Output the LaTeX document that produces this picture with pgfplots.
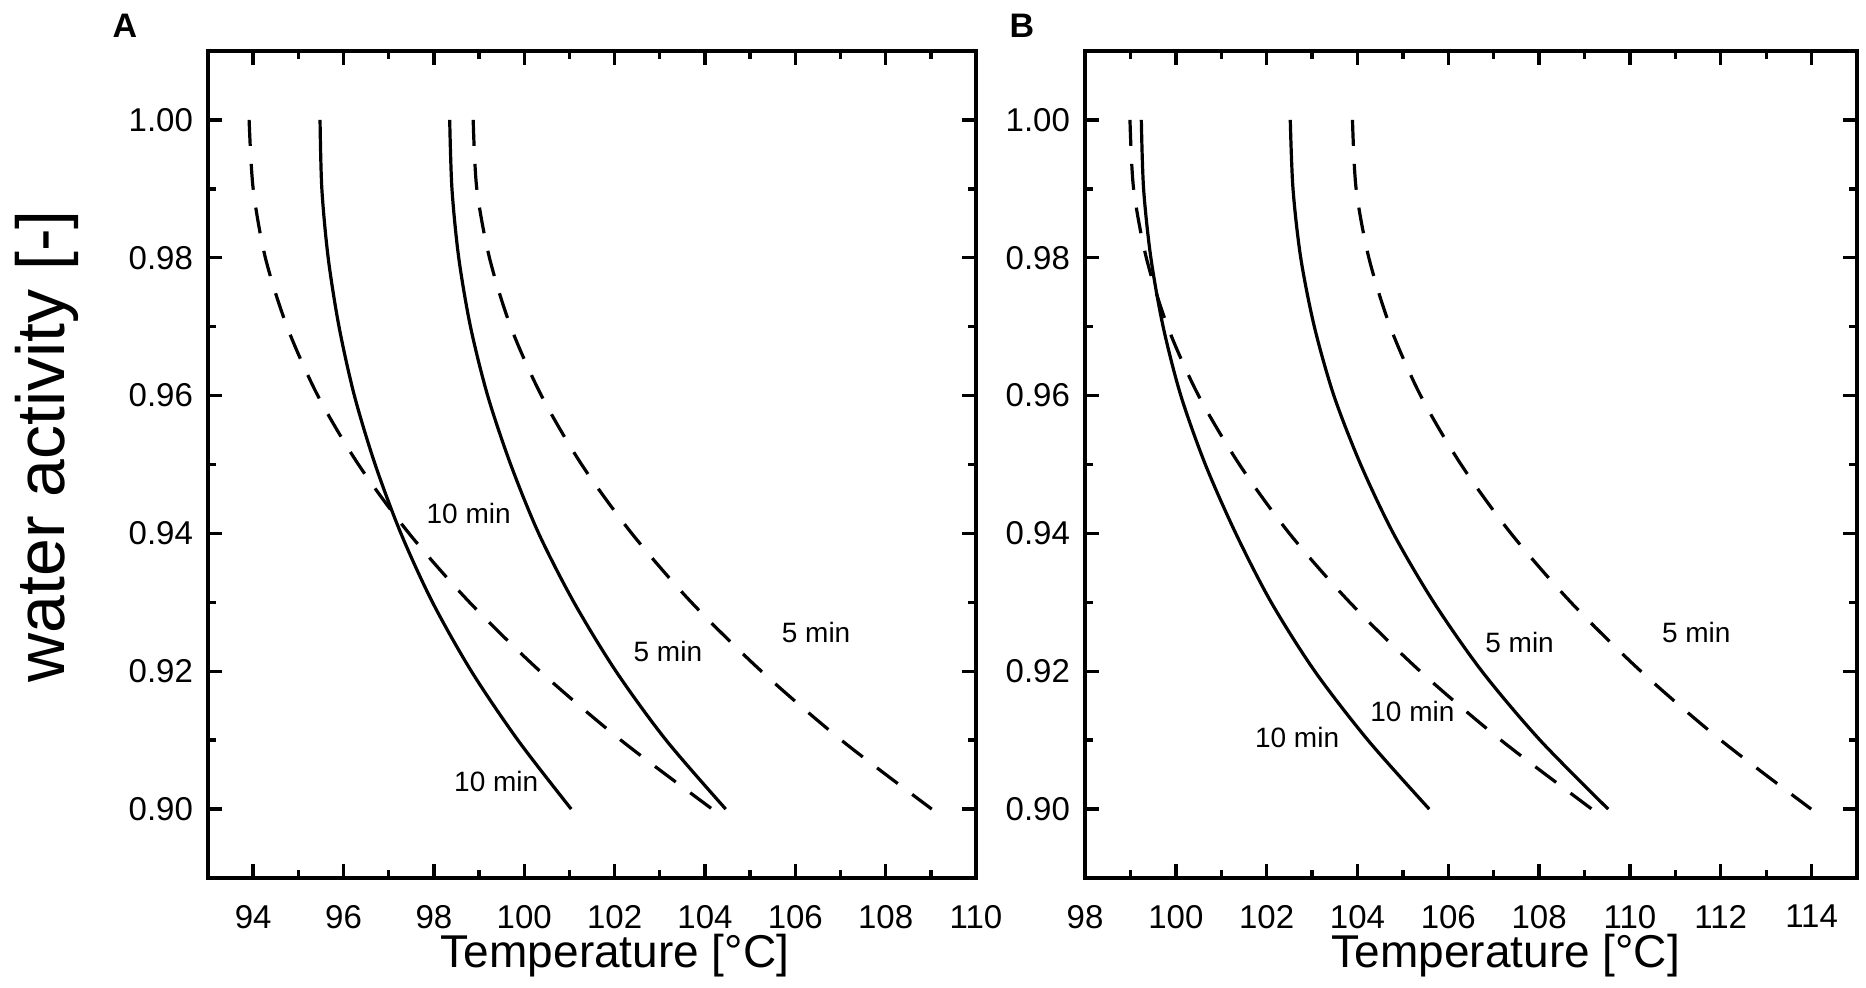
\documentclass[border=0pt]{standalone}
\usepackage{fontspec}
\setmainfont{Liberation Sans}
\usepackage{pgfplots}
\pgfplotsset{compat=1.18}
\begin{document}
\begin{tikzpicture}
\path[use as bounding box] (0,0) rectangle (933pt,493.5pt);
\pgfplotsset{
  panel/.style={
    scale only axis, height=413.5pt,
    ymin=0.89, ymax=1.01,
    ytick={0.90,0.92,0.94,0.96,0.98,1.00},
    minor x tick num=1, minor y tick num=1,
    tick align=inside, tick pos=both, ticklabel pos=left,
    major tick length=7pt, minor tick length=4pt,
    every tick/.style={black, line width=1.7pt},
    axis line style={line width=1.9pt},
    /pgf/number format/assume math mode=true,
    yticklabel style={/pgf/number format/fixed, /pgf/number format/fixed zerofill, /pgf/number format/precision=2, xshift=-4pt},
    tick label style={font=\fontsize{16.5}{16.5}\selectfont},
    x tick label style={yshift=-10pt},
    xlabel={Temperature [°C]},
    xlabel style={font=\fontsize{23}{23}\selectfont, anchor=center, yshift=-39pt},
    clip=false,
  },
}
\tikzset{
  sol/.style={black, line width=1.6pt, smooth},
  das/.style={black, line width=1.6pt, smooth, dash pattern=on 13pt off 9pt},
  ann/.style={font=\fontsize{14}{14}\selectfont, inner sep=0pt},
}
% Panel A
\begin{axis}[panel, at={(104pt,54.5pt)}, anchor=south west, width=384pt,
  xmin=93, xmax=110, xtick={94,96,...,110},
  x label style={at={(axis description cs:0.53,0)}},
  ylabel={water activity [-]},
  ylabel style={font=\fontsize{34}{34}\selectfont, at={(axis description cs:-0.21,0.522)}, anchor=center}]
\addplot[das] coordinates {(93.91,1.00) (94.00,0.99) (94.27,0.98) (94.75,0.97) (95.43,0.96) (96.33,0.95) (97.45,0.94) (98.79,0.93) (100.35,0.92) (102.14,0.91) (104.16,0.90)};
\addplot[sol] coordinates {(95.48,1.00) (95.52,0.99) (95.66,0.98) (95.90,0.97) (96.24,0.96) (96.70,0.95) (97.27,0.94) (97.97,0.93) (98.83,0.92) (99.86,0.91) (101.04,0.90)};
\addplot[sol] coordinates {(98.35,1.00) (98.40,0.99) (98.55,0.98) (98.81,0.97) (99.19,0.96) (99.70,0.95) (100.32,0.94) (101.10,0.93) (102.03,0.92) (103.14,0.91) (104.46,0.90)};
\addplot[das] coordinates {(98.87,1.00) (98.95,0.99) (99.23,0.98) (99.70,0.97) (100.38,0.96) (101.27,0.95) (102.38,0.94) (103.70,0.93) (105.25,0.92) (107.02,0.91) (109.02,0.90)};
\node[ann] at (axis cs:98.77,0.9429) {10 min};
\node[ann] at (axis cs:99.38,0.9040) {10 min};
\node[ann] at (axis cs:103.18,0.9228) {5 min};
\node[ann] at (axis cs:106.46,0.9256) {5 min};
\end{axis}
% Panel B
\begin{axis}[panel, at={(542.5pt,54.5pt)}, anchor=south west, width=386pt,
  xmin=98, xmax=115, xtick={98,100,...,114},
  x label style={at={(axis description cs:0.545,0)}}]
\addplot[das] coordinates {(98.99,1.00) (99.07,0.99) (99.35,0.98) (99.82,0.97) (100.50,0.96) (101.40,0.95) (102.50,0.94) (103.83,0.93) (105.38,0.92) (107.16,0.91) (109.16,0.90)};
\addplot[sol] coordinates {(99.24,1.00) (99.29,0.99) (99.45,0.98) (99.72,0.97) (100.11,0.96) (100.65,0.95) (101.32,0.94) (102.10,0.93) (103.06,0.92) (104.23,0.91) (105.58,0.90)};
\addplot[sol] coordinates {(102.52,1.00) (102.58,0.99) (102.75,0.98) (103.05,0.97) (103.48,0.96) (104.07,0.95) (104.79,0.94) (105.68,0.93) (106.74,0.92) (108.02,0.91) (109.52,0.90)};
\addplot[das] coordinates {(103.89,1.00) (103.97,0.99) (104.25,0.98) (104.72,0.97) (105.39,0.96) (106.28,0.95) (107.38,0.94) (108.70,0.93) (110.24,0.92) (112.00,0.91) (113.99,0.90)};
\node[ann] at (axis cs:107.57,0.9242) {5 min};
\node[ann] at (axis cs:111.46,0.9256) {5 min};
\node[ann] at (axis cs:105.21,0.9142) {10 min};
\node[ann] at (axis cs:102.67,0.9104) {10 min};
\end{axis}
\node[font=\fontsize{17}{17}\selectfont\bfseries] at (62.5pt,480.5pt) {A};
\node[font=\fontsize{17}{17}\selectfont\bfseries] at (511pt,480.5pt) {B};
\end{tikzpicture}
\end{document}
